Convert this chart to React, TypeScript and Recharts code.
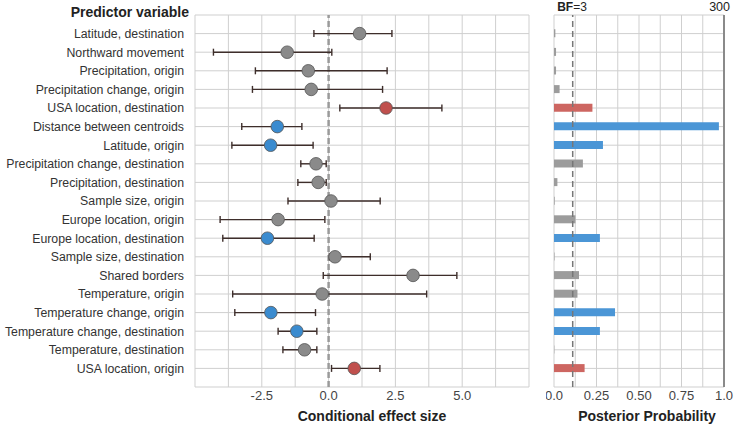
import React from "react"
import {
  Bar,
  CartesianGrid,
  Cell,
  ComposedChart,
  ErrorBar,
  ReferenceLine,
  Scatter,
  XAxis,
  YAxis,
} from "recharts"

const predictors = [
  "Latitude, destination",
  "Northward movement",
  "Precipitation, origin",
  "Precipitation change, origin",
  "USA location, destination",
  "Distance between centroids",
  "Latitude, origin",
  "Precipitation change, destination",
  "Precipitation, destination",
  "Sample size, origin",
  "Europe location, origin",
  "Europe location, destination",
  "Sample size, destination",
  "Shared borders",
  "Temperature, origin",
  "Temperature change, origin",
  "Temperature change, destination",
  "Temperature, destination",
  "USA location, origin",
]

const estimate = [1.16, -1.55, -0.76, -0.65, 2.15, -1.92, -2.17, -0.47, -0.39, 0.09, -1.89, -2.29, 0.24, 3.16, -0.24, -2.16, -1.19, -0.9, 0.96]
const lower = [-0.55, -4.31, -2.74, -2.85, 0.42, -3.25, -3.62, -1.04, -1.15, -1.52, -4.06, -3.96, 0.03, -0.2, -3.59, -3.51, -1.89, -1.71, 0.11]
const upper = [2.37, 0.12, 2.19, 2.02, 4.24, -1.0, -0.58, -0.09, -0.09, 1.93, -0.14, -0.54, 1.56, 4.8, 3.67, -0.49, -0.44, -0.44, 1.92]
// support: pos = positive, neg = negative, ns = not supported
const support = ["ns", "ns", "ns", "ns", "pos", "neg", "neg", "ns", "ns", "ns", "ns", "neg", "ns", "ns", "ns", "neg", "neg", "ns", "pos"]
const posterior = [0.008, 0.012, 0.012, 0.033, 0.226, 0.97, 0.288, 0.17, 0.02, 0.004, 0.126, 0.27, 0.003, 0.147, 0.138, 0.359, 0.27, 0.002, 0.18]

const effectTicks = [-5, -3.75, -2.5, -1.25, 0, 1.25, 2.5, 3.75, 5, 6.25, 7.5]
const effectLabels = [-2.5, 0, 2.5, 5]
const probTicks = [0, 0.125, 0.25, 0.375, 0.5, 0.625, 0.75, 0.875, 1]
const probLabels: Record<string, string> = { "0": "0.0", "0.25": "0.25", "0.5": "0.50", "0.75": "0.75", "1": "1.0" }
const rowTicks = Array.from({ length: predictors.length + 2 }, (_, i) => i)
const bf3 = 0.11

const pointColor: Record<string, string> = { pos: "#c0504d", neg: "#3a8bcf", ns: "#8a8a8a" }
const barColor: Record<string, string> = { pos: "#cd6661", neg: "#4b96d6", ns: "#9c9c9c" }

const n = predictors.length
const rows = predictors.map((name, i) => ({
  row: i + 1,
  name,
  est: estimate[i],
  err: [estimate[i] - lower[i], upper[i] - estimate[i]],
  prob: posterior[i],
  support: support[i],
}))

const FONT = "'Liberation Sans', Arial, sans-serif"
const GRID = "#cfcfcf"

const title: React.CSSProperties = {
  position: "absolute",
  fontSize: 14,
  fontWeight: "bold",
  color: "#222",
  lineHeight: "16px",
  whiteSpace: "nowrap",
}

function RowTick(props: any) {
  const { x, y, payload } = props
  return (
    <text x={x} y={y} dy="0.35em" textAnchor="end" fontSize={12.3} fill="#333" fontFamily={FONT}>
      {predictors[payload.value - 1] ?? ""}
    </text>
  )
}

export default function App() {
  return (
    <div style={{ position: "absolute", left: 0, top: 0, width: 734, height: 427, fontFamily: FONT, background: "#fff" }}>
      <div style={{ position: "absolute", left: 0, top: 0 }}>
        <ComposedChart width={540} height={427} data={rows} margin={{ top: 15, right: 11, bottom: 0, left: 0 }}>
          <CartesianGrid stroke={GRID} strokeWidth={1} />
          <XAxis
            type="number"
            dataKey="est"
            domain={[-5, 7.5]}
            ticks={effectTicks}
            interval={0}
            allowDataOverflow
            height={40}
            axisLine={false}
            tickLine={false}
            tickSize={0}
            tickMargin={4}
            tick={{ fill: "#444", fontSize: 13, fontFamily: FONT }}
            tickFormatter={(v: number) => (effectLabels.includes(v) ? v.toFixed(1) : "")}
          />
          <YAxis
            type="number"
            dataKey="row"
            domain={[0, n + 1]}
            ticks={rowTicks}
            reversed
            interval={0}
            width={195}
            axisLine={false}
            tickLine={false}
            tickSize={0}
            tickMargin={11}
            tick={<RowTick />}
          />
          <ReferenceLine x={0} stroke="#9a9a9a" strokeWidth={2.5} strokeDasharray="6 3" />
          <Scatter
            data={rows}
            isAnimationActive={false}
            shape={(p: any) => (
              <circle cx={p.cx} cy={p.cy} r={6.3} fill={pointColor[p.payload.support]} stroke="#555" strokeWidth={0.8} />
            )}
          >
            <ErrorBar dataKey="err" direction="x" width={3.5} stroke="#3e2e2b" strokeWidth={1.4} />
          </Scatter>
        </ComposedChart>
      </div>
      <div style={{ position: "absolute", left: 546, top: 0 }}>
        <ComposedChart layout="vertical" width={188} height={427} data={rows} margin={{ top: 15, right: 10, bottom: 0, left: 8 }}>
          <CartesianGrid stroke={GRID} strokeWidth={1} />
          <XAxis
            type="number"
            dataKey="prob"
            domain={[0, 1]}
            ticks={probTicks}
            interval={0}
            allowDataOverflow
            height={40}
            axisLine={false}
            tickLine={false}
            tickSize={0}
            tickMargin={4}
            tick={{ fill: "#444", fontSize: 13, fontFamily: FONT }}
            tickFormatter={(v: number) => probLabels[String(v)] ?? ""}
          />
          {/* in vertical layout the number axis already runs top to bottom */}
          <YAxis type="number" dataKey="row" domain={[0, n + 1]} ticks={rowTicks} interval={0} hide />
          <Bar dataKey="prob" barSize={8} isAnimationActive={false}>
            {rows.map((r) => (
              <Cell key={r.row} fill={barColor[r.support]} />
            ))}
          </Bar>
          <ReferenceLine x={bf3} stroke="#777" strokeWidth={1.5} strokeDasharray="6 4" />
          <ReferenceLine x={1} stroke="#8a8a8a" strokeWidth={2} />
        </ComposedChart>
      </div>

      <div style={{ ...title, left: 0, top: 4, width: 189, textAlign: "right" }}>Predictor variable</div>
      <div style={{ ...title, left: 272, top: 408, width: 200, textAlign: "center" }}>Conditional effect size</div>
      <div style={{ ...title, left: 547, top: 408, width: 200, textAlign: "center" }}>Posterior Probability</div>
      <div style={{ ...title, fontSize: 12, fontWeight: "normal", lineHeight: "14px", left: 542, top: 0, width: 60, textAlign: "center" }}>
        <b>BF</b>=3
      </div>
      <div style={{ ...title, fontSize: 12.5, fontWeight: "normal", lineHeight: "14px", left: 694, top: 0, width: 36, textAlign: "right" }}>
        300
      </div>
    </div>
  )
}
